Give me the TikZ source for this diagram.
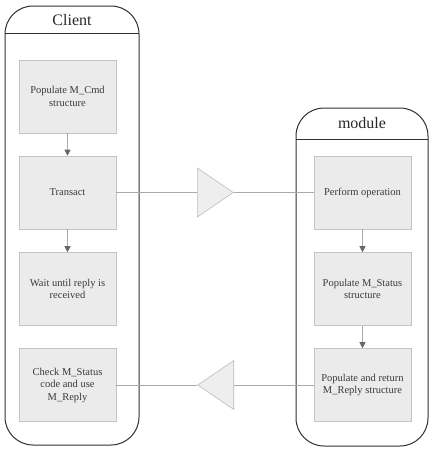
\documentclass[tikz,border=0pt]{standalone}
\usepackage{fontspec}
\setmainfont{Liberation Serif}
\usetikzlibrary{arrows.meta,shapes.geometric}
\definecolor{boxfill}{HTML}{EBEBEB}
\definecolor{boxdraw}{HTML}{C4C4C4}
\definecolor{linec}{HTML}{AAAAAA}
\definecolor{headc}{HTML}{666666}
\definecolor{lanec}{HTML}{303030}
\definecolor{txt}{HTML}{3A3A3A}
\definecolor{trifill}{HTML}{EEEEEE}
\definecolor{tridraw}{HTML}{BBBBBB}
\begin{document}
\begin{tikzpicture}[x=1pt,y=-1pt,
  stepbox/.style={draw=boxdraw,fill=boxfill,minimum width=97pt,minimum height=73pt,align=center,font=\fontsize{10.5}{12.5}\selectfont,text=txt,inner sep=0pt,line width=0.6pt},
  lane/.style={draw=lanec,line width=1pt,rounded corners=28pt},
  head/.style={font=\fontsize{16}{18}\selectfont,text=black!85,inner sep=0pt},
  flow/.style={draw=linec,line width=0.7pt,-{Triangle[length=6pt,width=6pt,color=headc]}},
  link/.style={draw=linec,line width=0.7pt},
  tri/.style={isosceles triangle,isosceles triangle stretches,draw=tridraw,fill=trifill,inner sep=0pt,minimum width=49pt,minimum height=36pt,line width=0.6pt}
]
\useasboundingbox (0,0) rectangle (436,450);
% lanes
\draw[lane] (5,6) rectangle (139,445);
\draw[draw=lanec,line width=1pt] (5,33) -- (139,33);
\node[head] (clienthead) at (72,20) {Client};
\draw[lane] (296,108) rectangle (428,446);
\draw[draw=lanec,line width=1pt] (296,139) -- (428,139);
\node[head] (modulehead) at (362,123) {module};
% boxes
\node[stepbox] (cmd) at (67.5,96.5) {Populate M\_Cmd\\structure};
\node[stepbox] (trans) at (67.5,192.5) {Transact};
\node[stepbox] (wait) at (67.5,289) {Wait until reply is\\received};
\node[stepbox] (check) at (67.5,385) {Check M\_Status\\code and use\\M\_Reply};
\node[stepbox] (perf) at (362.5,192.5) {Perform operation};
\node[stepbox] (stat) at (362.5,289) {Populate M\_Status\\structure};
\node[stepbox] (ret) at (362.5,385) {Populate and return\\M\_Reply structure};
% triangles
\node[tri,anchor=lower side] (t1) at (197,192.5) {};
\node[tri,shape border rotate=180,anchor=apex] (t2) at (197,385) {};
% connectors
\draw[flow] (cmd) -- (trans);
\draw[flow] (trans) -- (wait);
\draw[flow] (perf) -- (stat);
\draw[flow] (stat) -- (ret);
\draw[link] (trans.east) -- (t1.lower side);
\draw[link] (t1.apex) -- (perf.west);
\draw[link] (check.east) -- (t2.apex);
\draw[link] (t2.lower side) -- (ret.west);
\end{tikzpicture}
\end{document}
